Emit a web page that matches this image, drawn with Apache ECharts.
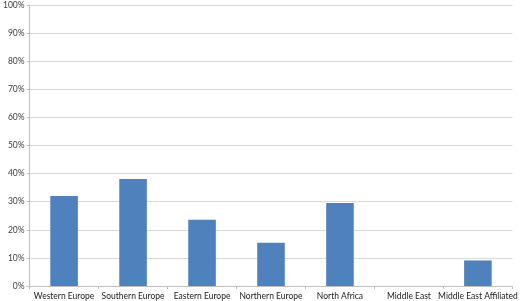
<!DOCTYPE html>
<html><head><meta charset="utf-8">
<script src="https://cdn.jsdelivr.net/npm/echarts@6/dist/echarts.min.js"></script>
<style>html,body{margin:0;padding:0;background:#fff}#c{width:520px;height:301px}</style>
</head><body><div id="c"></div>
<script>
var categories = ["Western Europe","Southern Europe","Eastern Europe","Northern Europe","North Africa","Middle East","Middle East Affiliated"];
var values = [32.0, 38.1, 23.6, 15.4, 29.5, 0, 9.1];
var yTicks = [0,10,20,30,40,50,60,70,80,90,100];

var chart = echarts.init(document.getElementById('c'), null, {renderer:'canvas'});
chart.setOption({
  animation:false,
  grid:{left:26, right:1, top:5, bottom:15, containLabel:false},
  xAxis:{
    type:'category', data:categories,
    axisLine:{show:true, lineStyle:{color:'#bfbfbf', width:1}},
    axisTick:{show:true, alignWithLabel:false, length:3, lineStyle:{color:'#bfbfbf'}},
    axisLabel:{color:'#1a1a1a', fontSize:8.5, fontFamily:'Lato, sans-serif', margin:6, interval:0}
  },
  yAxis:{
    type:'value', min:0, max:100, interval:10,
    axisLine:{show:true, lineStyle:{color:'#bfbfbf', width:1}},
    axisTick:{show:true, length:3, lineStyle:{color:'#bfbfbf'}},
    splitLine:{show:true, lineStyle:{color:'#d9d9d9', width:1}},
    axisLabel:{color:'#404040', fontSize:8.5, fontFamily:'Lato, sans-serif', margin:5,
      formatter:function(v){return v+'%';}}
  },
  series:[{
    type:'bar', data:values, barWidth:'40%',
    itemStyle:{color:'#4f81bd'}
  }]
});
</script></body></html>
